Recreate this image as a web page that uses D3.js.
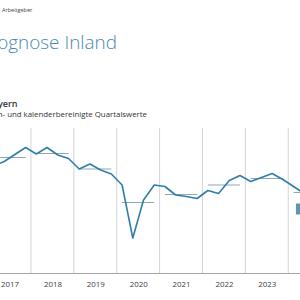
<!DOCTYPE html>
<html>
<head>
<meta charset="utf-8">
<script src="https://cdn.jsdelivr.net/npm/d3@7"></script>
<style>
  html, body { margin: 0; padding: 0; background: #fff; overflow: hidden; }
  svg { display: block; font-family: "Open Sans", "Noto Sans", sans-serif; }
</style>
</head>
<body>
<svg id="chart" width="300" height="300"></svg>
<script>
// quarterly values (seasonally and calendar adjusted), index
const years = [2017, 2018, 2019, 2020, 2021, 2022, 2023, 2024];
const quarters = [
  "2017Q1", "2017Q2", "2017Q3", "2017Q4",
  "2018Q1", "2018Q2", "2018Q3", "2018Q4",
  "2019Q1", "2019Q2", "2019Q3", "2019Q4",
  "2020Q1", "2020Q2", "2020Q3", "2020Q4",
  "2021Q1", "2021Q2", "2021Q3", "2021Q4",
  "2022Q1", "2022Q2", "2022Q3", "2022Q4",
  "2023Q1", "2023Q2", "2023Q3", "2023Q4",
  "2024Q1", "2024Q2",
];
const quarterValues = [
  106.8, 107.7, 109.1, 110.5,
  109.2, 110.5, 109.0, 108.3,
  106.2, 107.2, 106.0, 105.2,
  103.0, 92.4, 100.0, 103.0,
  102.7, 101.0, 100.7, 100.3,
  101.9, 101.3, 103.9, 104.9,
  103.7, 104.5, 105.3, 104.1,
  102.7, 101.3,
];
const annualValues = [108.5, 109.3, 106.2, 99.5, 101.1, 103.0, 104.3, 101.5];
const forecastRange = { year: 2024, low: 97.1, high: 99.3 };

const svg = d3.select("#chart");
const width = +svg.attr("width");

const x = d3.scaleLinear().domain([2017, 2025]).range([-11.9, 331.1]);
const y = d3.scaleLinear().domain([90, 115]).range([250, 125]);
const plotTop = 128;
const plotBottom = 273;

const qPos = (q) => {
  const [yr, qq] = q.split("Q");
  return +yr + (+qq - 0.5) / 4;
};

// header texts (the slide is cropped on the left, as in the source)
svg.append("text")
  .attr("x", 2)
  .attr("y", 12)
  .attr("font-size", 5.5)
  .attr("fill", "#444")
  .text("Arbeitgeber");

svg.append("text")
  .attr("x", 117)
  .attr("y", 48.5)
  .attr("text-anchor", "end")
  .attr("font-size", 18.9)
  .attr("font-weight", 300)
  .attr("fill", "#4a88ae")
  .text("Konjunkturprognose Inland");

svg.append("text")
  .attr("x", 17.5)
  .attr("y", 106.5)
  .attr("text-anchor", "end")
  .attr("font-size", 9)
  .attr("font-weight", 600)
  .attr("fill", "#333")
  .text("Bayern");

svg.append("text")
  .attr("x", 147)
  .attr("y", 117)
  .attr("text-anchor", "end")
  .attr("font-size", 7.85)
  .attr("fill", "#333")
  .text("Saison- und kalenderbereinigte Quartalswerte");

// year gridlines
const g = svg.append("g");
g.append("g")
  .selectAll("line")
  .data(years.concat([2025]))
  .join("line")
  .attr("x1", (d) => x(d))
  .attr("x2", (d) => x(d))
  .attr("y1", plotTop)
  .attr("y2", plotBottom)
  .attr("stroke", "#d4d4d4")
  .attr("stroke-width", 1);

// axis
const axis = g.append("g")
  .attr("transform", `translate(0, ${plotBottom})`)
  .call(
    d3.axisBottom(x)
      .tickValues(years.map((d) => d + 0.5))
      .tickFormat((d) => String(Math.floor(d)))
      .tickSize(0)
      .tickPadding(8)
  );
axis.select(".domain").attr("stroke", "#a6a6a6").attr("d", `M-20,0.5H${width + 20}`);
axis.selectAll("text")
  .attr("font-size", 7.9)
  .attr("font-family", "Open Sans, sans-serif")
  .attr("fill", "#404040");

// annual averages
g.append("g")
  .selectAll("line")
  .data(years.map((yr, i) => ({ year: yr, value: annualValues[i] })))
  .join("line")
  .attr("x1", (d) => x(d.year + 0.125))
  .attr("x2", (d) => x(d.year + 0.875))
  .attr("y1", (d) => y(d.value))
  .attr("y2", (d) => y(d.value))
  .attr("stroke", "#8fa6b4")
  .attr("stroke-width", 1.2);

// forecast range
g.append("rect")
  .attr("x", x(forecastRange.year + 0.18))
  .attr("y", y(forecastRange.high))
  .attr("width", x(forecastRange.year + 0.45) - x(forecastRange.year + 0.18))
  .attr("height", y(forecastRange.low) - y(forecastRange.high))
  .attr("fill", "#5f95b3");

// quarterly line
const line = d3.line()
  .x((d) => x(qPos(d.q)))
  .y((d) => y(d.v));

g.append("path")
  .datum(quarters.map((q, i) => ({ q, v: quarterValues[i] })))
  .attr("d", line)
  .attr("fill", "none")
  .attr("stroke", "#2f7eaa")
  .attr("stroke-width", 1.6)
  .attr("stroke-linejoin", "round");
</script>
</body>
</html>
